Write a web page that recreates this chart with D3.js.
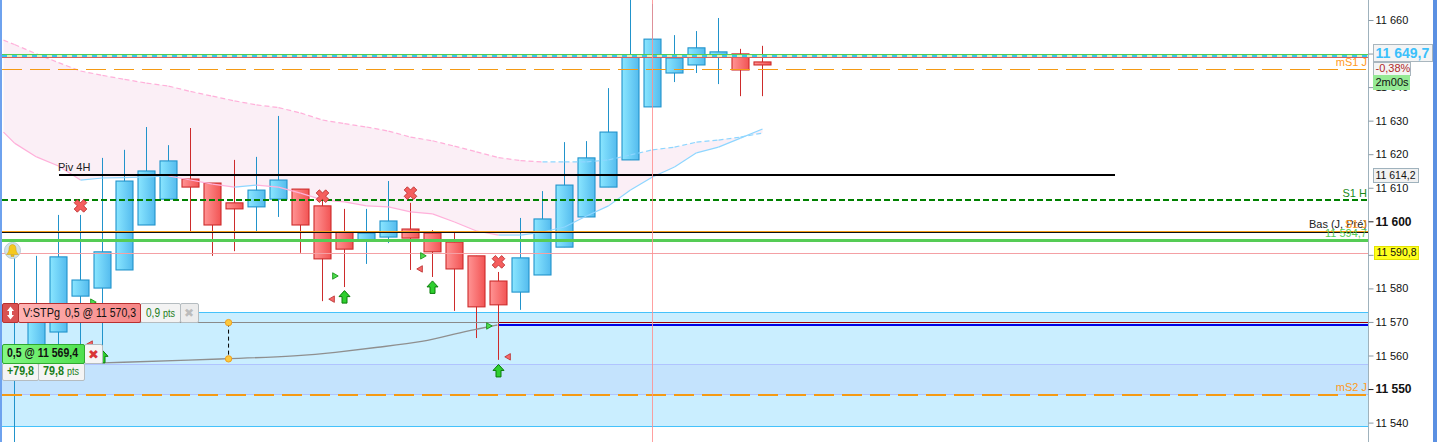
<!DOCTYPE html>
<html>
<head>
<meta charset="utf-8">
<script src="https://cdn.jsdelivr.net/npm/d3@7/dist/d3.min.js"></script>
<style>
    html, body { margin: 0; padding: 0; background: #fff; overflow: hidden; }
    text { font-family: "Liberation Sans", Arial, sans-serif; }
</style>
</head>
<body>
<div id="chart"></div>
<script>
const WIDTH = 1437;
const HEIGHT = 442;
const AXIS_X = 1368.5;
const LEFT_X = 2;

// candles, one entry per bar
const candleHigh = [11589.1, 11589.7, 11601.9, 11601.9, 11618.9, 11621.3, 11628.1, 11622.7, 11627.8, 11611.4, 11618.3, 11619.2, 11631.4, 11609.6, 11606.4, 11603.7, 11603.7, 11612.0, 11605.5, 11597.4, 11596.5, 11589.7, 11584.9, 11601.0, 11609.0, 11623.6, 11623.9, 11639.7, 11668.0, 11664.8, 11655.5, 11656.7, 11660.6, 11651.4, 11652.3];
const candleOpen = [11554.2, 11558.7, 11567.0, 11577.7, 11580.1, 11585.5, 11598.9, 11606.6, 11612.6, 11611.4, 11605.5, 11604.3, 11606.6, 11609.6, 11604.6, 11596.8, 11594.4, 11595.3, 11597.7, 11596.5, 11593.8, 11589.7, 11582.2, 11578.9, 11584.0, 11592.3, 11601.3, 11610.2, 11618.3, 11634.1, 11644.2, 11646.6, 11649.0, 11649.9, 11647.5];
const candleClose = [11561.6, 11575.0, 11589.4, 11582.5, 11590.9, 11612.0, 11615.0, 11618.0, 11610.2, 11598.9, 11603.7, 11609.3, 11612.3, 11598.9, 11588.8, 11591.7, 11596.5, 11600.1, 11595.0, 11590.9, 11585.8, 11574.5, 11575.1, 11589.1, 11600.7, 11610.8, 11618.9, 11626.6, 11649.3, 11654.3, 11648.7, 11651.7, 11650.5, 11645.1, 11646.6];
const candleLow = [11531.8, 11554.2, 11563.1, 11561.6, 11557.8, 11585.5, 11598.9, 11606.6, 11596.8, 11589.7, 11591.1, 11597.1, 11601.3, 11590.6, 11576.2, 11580.4, 11587.3, 11593.5, 11585.5, 11583.4, 11573.3, 11565.2, 11558.7, 11573.6, 11584.0, 11592.3, 11601.3, 11610.2, 11618.3, 11634.1, 11641.5, 11644.2, 11640.9, 11637.3, 11637.3];

// cloud, first point sits half a bar left of the first candle
const cloudIndex = [-0.5, 0, 1, 2, 3, 4, 5, 6, 7, 8, 9, 10, 11, 12, 13, 14, 15, 16, 17, 18, 19, 20, 21, 22, 23, 24, 25, 26, 27, 28, 29, 30, 31, 32, 33, 34];
const cloudUpper = [11654.0, 11652.7, 11649.9, 11647.3, 11644.8, 11643.5, 11642.3, 11641.2, 11640.3, 11638.7, 11637.3, 11635.9, 11634.7, 11633.9, 11632.3, 11630.2, 11629.1, 11628.1, 11626.9, 11625.1, 11624.0, 11622.4, 11620.7, 11619.0, 11618.1, 11617.7, 11617.7, 11617.7, 11618.3, 11619.8, 11621.3, 11622.1, 11623.6, 11624.2, 11625.1, 11626.3];
const cloudLower = [11626.6, 11623.3, 11619.2, 11616.5, 11612.3, 11612.9, 11613.0, 11613.2, 11613.5, 11612.3, 11611.1, 11610.2, 11610.8, 11610.2, 11608.4, 11606.4, 11605.8, 11604.6, 11604.3, 11602.8, 11602.2, 11599.8, 11597.1, 11595.9, 11595.9, 11596.8, 11598.3, 11601.6, 11604.6, 11609.3, 11613.2, 11616.2, 11620.4, 11622.1, 11624.8, 11627.5];

// order link curve
const linkIndex = [4, 9.73, 13, 14.5, 16.5, 18.6, 20.14, 21.05, 21.95];
const linkPrice = [11557.8, 11559.0, 11559.9, 11560.8, 11562.5, 11564.0, 11566.7, 11567.9, 11569.1];

// markers
const crossIndex = [3, 14, 18, 22];
const crossPrice = [11604.6, 11607.5, 11608.4, 11587.9];
const arrowIndex = [4, 15, 19, 22];
const arrowPrice = [11559.6, 11577.4, 11580.3, 11555.4];
const buyIndex = [4, 15, 19, 22];
const buyPrice = [11575.9, 11583.7, 11589.7, 11568.8];
const sellIndex = [3, 14, 18, 22];
const sellPrice = [11563.4, 11576.8, 11585.8, 11559.6];

// axis
const axisTicks = [11660, 11650, 11640, 11630, 11620, 11610, 11600, 11590, 11580, 11570, 11560, 11550, 11540];
const boldTicks = [11600, 11550];

const LAST_PRICE = 11649.7;
const PIVOT_4H = 11613.8;
const S1_H = 11606.3;
const MS1_J = 11645.2;
const MS2_J = 11548.3;
const LOW_DAY = 11596.7;
const S1_J_GREEN = 11594.4;
const ALERT_PRICE = 11590.4;
const BAND_TOP = 11572.8;
const BAND_BOTTOM = 11538.8;
const BAND_INNER = 11557.3;
const STOP_PRICE = 11569.8;
const ENTRY_PRICE = 11569.1;

const x = d3.scaleLinear().domain([0, 34]).range([14.5, 762.5]);
const y = d3.scaleLinear().domain([11660, 11540]).range([20, 422.6]);

const formatPrice = d => d3.format("d")(Math.floor(d / 1000)) + "\u00a0" + d3.format("03d")(d % 1000);

const svg = d3.select("#chart").append("svg")
    .attr("width", WIDTH)
    .attr("height", HEIGHT)
    .style("display", "block");

addGradients();
drawBands();
drawCloud();
drawCandles();
drawCloudLines();
drawLevels();
drawLink();
drawMarkers();
drawAxis();
drawLevelLabels();
drawAxisBoxes();
drawBell();
drawOrderLabels();

function addGradients() {
    const defs = svg.append("defs");
    const stops = [
        ["candleUp", "#8ae6ff", "#54bbee"],
        ["candleDown", "#ff9494", "#f25454"],
        ["stopLabel", "#ffb4b4", "#f68686"],
        ["entryLabel", "#84f884", "#4ee04e"]
    ];
    stops.forEach(([id, from, to]) => {
        const g = defs.append("linearGradient").attr("id", id);
        g.append("stop").attr("offset", "0%").attr("stop-color", from);
        g.append("stop").attr("offset", "100%").attr("stop-color", to);
    });
}

function hLine(price, color, width, dash, fromX = LEFT_X, toX = AXIS_X) {
    return svg.append("line")
        .attr("x1", fromX)
        .attr("x2", toX)
        .attr("y1", y(price))
        .attr("y2", y(price))
        .attr("stroke", color)
        .attr("stroke-width", width)
        .attr("stroke-dasharray", dash || null)
        .attr("shape-rendering", "crispEdges");
}

function drawBands() {
    svg.append("rect")
        .attr("x", LEFT_X).attr("width", AXIS_X - LEFT_X)
        .attr("y", y(BAND_TOP)).attr("height", y(BAND_BOTTOM) - y(BAND_TOP))
        .attr("fill", "#caeeff");
    svg.append("rect")
        .attr("x", LEFT_X).attr("width", AXIS_X - LEFT_X)
        .attr("y", y(BAND_INNER)).attr("height", y(MS2_J) - y(BAND_INNER))
        .attr("fill", "#c4e3fd");
    hLine(BAND_TOP, "#45c2fb", 1);
    hLine(BAND_BOTTOM, "#45c2fb", 1);
    hLine(BAND_INNER, "#b0c4ff", 1);
    hLine(MS2_J, "#b0c4ff", 1);
}

function drawCloud() {
    const area = d3.area()
        .x(i => x(cloudIndex[i]))
        .y0(i => y(cloudLower[i]))
        .y1(i => y(cloudUpper[i]));
    svg.append("path")
        .attr("d", area(d3.range(cloudIndex.length)))
        .attr("fill", "#fbeff6");
}

function drawCloudLines() {
    const drawSeries = (series, dash) => {
        d3.range(series.length - 1).forEach(i => {
            svg.append("line")
                .attr("x1", x(cloudIndex[i]))
                .attr("x2", x(cloudIndex[i + 1]))
                .attr("y1", y(series[i]))
                .attr("y2", y(series[i + 1]))
                .attr("stroke", series[i + 1] >= series[i] ? "#8ed6ff" : "#ffb0da")
                .attr("stroke-width", 1.2)
                .attr("stroke-dasharray", dash);
        });
    };
    drawSeries(cloudUpper, "5 3");
    drawSeries(cloudLower, null);
}

function drawCandles() {
    candleOpen.forEach((open, i) => {
        const close = candleClose[i];
        const up = close >= open;
        const stroke = up ? "#2193cb" : "#cd2b2b";
        svg.append("line")
            .attr("x1", x(i)).attr("x2", x(i))
            .attr("y1", y(candleHigh[i])).attr("y2", y(candleLow[i]))
            .attr("stroke", stroke);
        svg.append("rect")
            .attr("x", x(i) - 8.5).attr("width", 17)
            .attr("y", y(Math.max(open, close)))
            .attr("height", Math.abs(y(open) - y(close)))
            .attr("fill", up ? "url(#candleUp)" : "url(#candleDown)")
            .attr("stroke", stroke)
            .attr("stroke-width", 1.1);
    });
}

function drawLevels() {
    hLine(MS1_J, "#f59a14", 1, "20 8");
    hLine(MS2_J, "#f59a14", 2, "20 8");
    hLine(LAST_PRICE - 0.45, "#dff0b8", 2);
    hLine(LAST_PRICE - 0.45, "#33c4f2", 2, "5 5");
    hLine(LAST_PRICE + 0.15, "#55cc55", 1);
    hLine(LAST_PRICE - 1.0, "#d86060", 1);
    hLine(S1_H, "#008000", 2, "5.5 3.5");
    hLine(LOW_DAY + 0.3, "#f59a14", 1);
    hLine(LOW_DAY, "#111", 1);
    hLine(S1_J_GREEN, "#55cc55", 3);
    hLine(ALERT_PRICE, "#f4a0a4", 1);
    hLine(PIVOT_4H, "#000", 2, null, x(2), x(50));
    hLine(STOP_PRICE, "#a00000", 1, null, x(22));
    hLine(ENTRY_PRICE, "#0000e6", 2, null, x(22));
    svg.append("line")
        .attr("x1", x(29)).attr("x2", x(29))
        .attr("y1", 0).attr("y2", HEIGHT)
        .attr("stroke", "#ff8f8f")
        .attr("stroke-opacity", 0.85);
    svg.append("rect").attr("x", 0).attr("y", 0).attr("width", 2).attr("height", HEIGHT).attr("fill", "#6ea2ee");
    svg.append("rect").attr("x", 1433).attr("y", 0).attr("width", 4).attr("height", HEIGHT).attr("fill", "#5b90e2");
}

function drawLink() {
    hLine(STOP_PRICE, "#8a8a8a", 1, null, x(4), x(22));
    const curve = d3.line()
        .x(i => x(linkIndex[i]))
        .y(i => y(linkPrice[i]))
        .curve(d3.curveBasis);
    svg.append("path")
        .attr("d", curve(d3.range(linkIndex.length)))
        .attr("fill", "none")
        .attr("stroke", "#8f8f8f")
        .attr("stroke-width", 1.4);
    svg.append("line")
        .attr("x1", x(linkIndex[1])).attr("x2", x(linkIndex[1]))
        .attr("y1", y(STOP_PRICE)).attr("y2", y(linkPrice[1]))
        .attr("stroke", "#000")
        .attr("stroke-dasharray", "4 3");
    [STOP_PRICE, linkPrice[1]].forEach(p => {
        svg.append("circle")
            .attr("cx", x(linkIndex[1])).attr("cy", y(p)).attr("r", 3.2)
            .attr("fill", "#fcc93e").attr("stroke", "#f0a020");
    });
}

function drawMarkers() {
    const crossPath = d3.symbol().type(d3.symbolCross).size(100)();
    crossIndex.forEach((d, i) => {
        svg.append("path")
            .attr("d", crossPath)
            .attr("transform", `translate(${x(d)},${y(crossPrice[i])}) rotate(45)`)
            .attr("fill", "#f55e5e").attr("stroke", "#b82a2a").attr("stroke-width", 0.8);
    });
    const arrowPath = "M0,-6.5L5.5,-0.5H2.5V6H-2.5V-0.5H-5.5Z";
    arrowIndex.forEach((d, i) => {
        svg.append("path")
            .attr("d", arrowPath)
            .attr("transform", `translate(${x(d)},${y(arrowPrice[i])})`)
            .attr("fill", "#2fcf2f").attr("stroke", "#0a7d0a");
    });
    const triangle = d3.symbol().type(d3.symbolTriangle).size(18)();
    buyIndex.forEach((d, i) => {
        svg.append("path")
            .attr("d", triangle)
            .attr("transform", `translate(${x(d) - 10},${y(buyPrice[i])}) rotate(90)`)
            .attr("fill", "#4fdc4f").attr("stroke", "#0a8a0a").attr("stroke-width", 0.8);
    });
    sellIndex.forEach((d, i) => {
        svg.append("path")
            .attr("d", triangle)
            .attr("transform", `translate(${x(d) + 10},${y(sellPrice[i])}) rotate(-90)`)
            .attr("fill", "#f56a6a").attr("stroke", "#b82a2a").attr("stroke-width", 0.8);
    });
}

function drawAxis() {
    svg.append("line")
        .attr("x1", AXIS_X).attr("x2", AXIS_X)
        .attr("y1", 0).attr("y2", HEIGHT)
        .attr("stroke", "#9fb2bd");
    const axis = svg.append("g")
        .attr("transform", `translate(${AXIS_X},0)`)
        .call(d3.axisRight(y).tickValues(axisTicks).tickFormat(formatPrice).tickSize(5).tickPadding(2));
    axis.select(".domain").remove();
    axis.selectAll(".tick line").attr("stroke", d => boldTicks.includes(d) ? "#222" : "#8a9aa5");
    axis.selectAll(".tick text")
        .attr("fill", "#111")
        .style("font-family", '"Liberation Sans", Arial, sans-serif')
        .style("font-size", d => boldTicks.includes(d) ? "12px" : "11px")
        .style("font-weight", d => boldTicks.includes(d) ? "bold" : "normal");
}

function label(textValue, px, py, color, size, anchor = "start", weight = "normal", fitWidth = null) {
    return svg.append("text")
        .attr("x", px).attr("y", py)
        .attr("fill", color)
        .attr("text-anchor", anchor)
        .attr("textLength", fitWidth)
        .attr("lengthAdjust", fitWidth ? "spacingAndGlyphs" : null)
        .style("font-size", size + "px")
        .style("font-weight", weight)
        .text(textValue);
}

function drawLevelLabels() {
    label("Piv 4H", 58, y(PIVOT_4H) - 4, "#222", 11);
    label("mS1 J", 1367, y(MS1_J) - 4, "#ff9a22", 11, "end");
    label("mS2 J", 1367, y(MS2_J) - 4, "#ff9a22", 11, "end");
    label("S1 H", 1367, y(S1_H) - 3, "#1a8a1a", 11, "end");
    label("Bas (J, Pré)", 1367, y(LOW_DAY) - 4, "#222", 11, "end");
    label("S1 J", 1367, y(LOW_DAY) - 4, "#ff9a22", 11, "end");
    label("11\u00a0594,7", 1367, y(S1_J_GREEN) - 3, "#55cc55", 11, "end");
}

function axisBox(textValue, px, py, w, h, fill, stroke, color, size, weight, fitWidth) {
    svg.append("rect")
        .attr("x", px + 0.5).attr("y", py + 0.5)
        .attr("width", w).attr("height", h)
        .attr("fill", fill)
        .attr("stroke", stroke);
    label(textValue, px + 2.5, py + h - 3, color, size, "start", weight, fitWidth);
}

function drawAxisBoxes() {
    axisBox("11\u00a0649,7", 1373, 44, 59, 17, "#f4f4f4", "#a9b6be", "#3cc0fb", 14, "bold");
    axisBox("-0,38%", 1373, 62, 37, 13, "#f4f4f4", "#a9b6be", "#b02a2a", 11, "normal");
    axisBox("2m00s", 1373, 75, 36, 14, "#95ea95", "#95ea95", "#111", 11, "normal");
    axisBox("11\u00a0614,2", 1373, 168, 45, 14, "#f1f1f1", "#9fb2bd", "#111", 11, "normal", 40);
    axisBox("11\u00a0590,8", 1374, 246, 44, 13, "#ffff1e", "#e2e200", "#111", 11, "normal", 40);
}

function drawBell() {
    const bell = svg.append("g").attr("transform", "translate(12.5,250.5)");
    bell.append("circle").attr("r", 8).attr("fill", "#d4e3e8").attr("stroke", "#b8ccd4");
    bell.append("path")
        .attr("d", "M0,-6C-3,-6 -3.5,-3 -3.5,-1C-3.5,1.5 -5,2.5 -6,4H6C5,2.5 3.5,1.5 3.5,-1C3.5,-3 3,-6 0,-6ZM-1.5,4.5H1.5V6H-1.5Z")
        .attr("fill", "#f5c91e")
        .attr("stroke", "#c99a10")
        .attr("stroke-width", 0.5);
}

function box(px, py, w, h, fill, stroke) {
    svg.append("rect")
        .attr("x", px + 0.5).attr("y", py + 0.5)
        .attr("width", w).attr("height", h)
        .attr("rx", 1.5)
        .attr("fill", fill)
        .attr("stroke", stroke);
}

function drawOrderLabels() {
    // stop order
    box(140, 303, 40, 19, "#f3f3f3", "#b5bcc0");
    box(180, 303, 18, 19, "#ececec", "#b5bcc0");
    box(2, 303, 16, 19, "#d95252", "#b83030");
    box(18, 303, 122, 19, "url(#stopLabel)", "#b83030");
    svg.append("path")
        .attr("d", "M10.5,306.5L14,311H12V315H14L10.5,319.5L7,315H9V311H7Z")
        .attr("fill", "#fff");
    label("V:STPg", 23, 317, "#111", 12, "start", "normal", 37);
    label("0,5 @ 11\u00a0570,3", 65, 317, "#111", 12, "start", "normal", 71);
    label("0,9", 146, 317, "#1a7d1a", 12, "start", "normal", 14);
    label("pts", 163, 317, "#1a7d1a", 10, "start", "normal", 12);
    label("\u2716", 189, 317, "#bcbcbc", 12, "middle");

    // open position
    box(84, 344, 18, 19, "#f5f5f5", "#b5bcc0");
    box(2, 363, 36, 17, "#f4f4f4", "#b5bcc0");
    box(38, 363, 46, 17, "#f4f4f4", "#b5bcc0");
    box(2, 344, 82, 19, "url(#entryLabel)", "#2fa82f");
    label("0,5 @ 11\u00a0569,4", 7, 357, "#111", 12, "start", "bold", 71);
    label("\u2716", 93.5, 359, "#d93636", 13, "middle");
    label("+79,8", 7, 375, "#1a7d1a", 12, "start", "bold", 27);
    label("79,8", 43, 375, "#1a7d1a", 12, "start", "bold", 21);
    label("pts", 67, 375, "#1a7d1a", 10, "start", "normal", 12);
}
</script>
</body>
</html>
